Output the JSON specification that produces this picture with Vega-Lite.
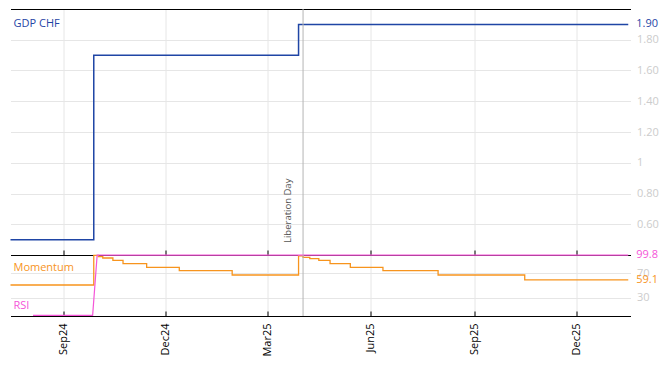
{
  "$schema": "https://vega.github.io/schema/vega-lite/v6.json",
  "padding": {"left": 7.5, "top": 8, "right": 0, "bottom": 0},
  "background": "white",
  "spacing": 0,
  "bounds": "flush",
  "config": {
    "font": "Open Sans",
    "view": {"stroke": null},
    "axis": {"labelFont": "Open Sans", "labelFontSize": 11, "gridColor": "#e6e6e6", "gridWidth": 1},
    "text": {"font": "Open Sans", "fontSize": 11}
  },
  "datasets": {
    "gdp": [
      {"date": "2024-07-16", "value": 0.5},
      {"date": "2024-09-28", "value": 1.7},
      {"date": "2025-03-29", "value": 1.9},
      {"date": "2026-01-16", "value": 1.9}
    ],
    "momentum": [
      {"date": "2024-07-16", "value": 50.8},
      {"date": "2024-09-28", "value": 99.5},
      {"date": "2024-10-02", "value": 97.4},
      {"date": "2024-10-06", "value": 95.1},
      {"date": "2024-10-15", "value": 91.3},
      {"date": "2024-10-24", "value": 85.9},
      {"date": "2024-11-14", "value": 79.8},
      {"date": "2024-12-13", "value": 74.4},
      {"date": "2025-01-29", "value": 67.2},
      {"date": "2025-03-29", "value": 98.8},
      {"date": "2025-04-02", "value": 96.2},
      {"date": "2025-04-08", "value": 94.1},
      {"date": "2025-04-16", "value": 91.3},
      {"date": "2025-04-26", "value": 85.9},
      {"date": "2025-05-14", "value": 79.8},
      {"date": "2025-06-12", "value": 74.4},
      {"date": "2025-07-31", "value": 67.2},
      {"date": "2025-10-16", "value": 59.1},
      {"date": "2026-01-16", "value": 59.1}
    ],
    "rsi": [
      {"date": "2024-08-05", "value": 1},
      {"date": "2024-09-27", "value": 1},
      {"date": "2024-10-01", "value": 99.8},
      {"date": "2026-01-16", "value": 99.8}
    ],
    "last": [
      {"series": "GDP CHF", "date": "2026-01-16", "value": 1.9, "label": "1.90"},
      {"series": "Momentum", "date": "2026-01-16", "value": 59.1, "label": "59.1"},
      {"series": "RSI", "date": "2026-01-16", "value": 99.8, "label": "99.8"}
    ],
    "events": [
      {"date": "2025-04-02", "event": "Liberation Day"}
    ]
  },
  "vconcat": [
    {
      "width": 620,
      "height": 246,
      "resolve": {"axis": {"x": "independent", "y": "independent"}},
      "layer": [
        {
          "data": {"name": "gdp"},
          "mark": {"type": "line", "interpolate": "step-after", "color": "#1f45a5", "strokeWidth": 1.5},
          "encoding": {
            "x": {"field": "date", "type": "temporal",
              "scale": {"type": "utc", "domain": [{"year": 2024, "month": 7, "date": 16, "utc": true}, {"year": 2026, "month": 1, "date": 18, "utc": true}]},
              "axis": {"orient": "top", "title": null, "domain": true, "domainColor": "#000000", "domainWidth": 1.2, "ticks": false, "labels": false, "grid": true,
                "values": [
                  {"year": 2024, "month": 9, "date": 1, "utc": true},
                  {"year": 2024, "month": 12, "date": 1, "utc": true},
                  {"year": 2025, "month": 3, "date": 1, "utc": true},
                  {"year": 2025, "month": 6, "date": 1, "utc": true},
                  {"year": 2025, "month": 9, "date": 1, "utc": true},
                  {"year": 2025, "month": 12, "date": 1, "utc": true}
                ]}},
            "y": {"field": "value", "type": "quantitative",
              "scale": {"domain": [0.4, 2.0], "nice": false, "zero": false},
              "axis": {"orient": "right", "title": null, "domain": false, "ticks": false, "grid": true, "labelColor": "#cccccc", "labelPadding": 6,
                "values": [0.6, 0.8, 1, 1.2, 1.4, 1.6, 1.8],
                "labelExpr": "datum.value == 1 ? '1' : format(datum.value, '.2f')"}}
          }
        },
        {
          "data": {"name": "events"},
          "mark": {"type": "rule", "color": "#b4b4b4", "strokeWidth": 1},
          "encoding": {"x": {"field": "date", "type": "temporal", "axis": null}}
        },
        {
          "data": {"name": "events"},
          "mark": {"type": "text", "angle": 270, "align": "left", "baseline": "bottom", "dx": 12, "dy": -10, "fontSize": 9.5, "color": "#555555"},
          "encoding": {
            "x": {"field": "date", "type": "temporal", "axis": null},
            "y": {"datum": 0.4, "axis": null},
            "text": {"field": "event"}
          }
        },
        {
          "data": {"name": "last"},
          "transform": [{"filter": "datum.series == 'GDP CHF'"}],
          "mark": {"type": "text", "align": "left", "baseline": "middle", "dx": 8, "color": "#1f45a5"},
          "encoding": {
            "x": {"field": "date", "type": "temporal", "axis": null},
            "y": {"field": "value", "type": "quantitative", "axis": null},
            "text": {"field": "label"}
          }
        },
        {
          "data": {"name": "last"},
          "transform": [{"filter": "datum.series == 'GDP CHF'"}],
          "mark": {"type": "text", "align": "left", "baseline": "middle", "dx": 3, "color": "#1f45a5"},
          "encoding": {
            "x": {"datum": {"year": 2024, "month": 7, "date": 16, "utc": true}, "type": "temporal", "axis": null},
            "y": {"datum": 1.9, "axis": null},
            "text": {"field": "series"}
          }
        }
      ]
    },
    {
      "width": 620,
      "height": 61,
      "resolve": {"axis": {"x": "independent", "y": "independent"}},
      "layer": [
        {
          "data": {"name": "momentum"},
          "mark": {"type": "line", "interpolate": "step-after", "color": "#f7941d", "strokeWidth": 1.3},
          "encoding": {
            "x": {"field": "date", "type": "temporal",
              "scale": {"type": "utc", "domain": [{"year": 2024, "month": 7, "date": 16, "utc": true}, {"year": 2026, "month": 1, "date": 18, "utc": true}]},
              "axis": {"orient": "top", "title": null, "domain": true, "domainColor": "#000000", "domainWidth": 1.2, "ticks": true, "tickColor": "#000000", "tickSize": 5, "labels": false, "grid": true,
                "values": [
                  {"year": 2024, "month": 9, "date": 1, "utc": true},
                  {"year": 2024, "month": 12, "date": 1, "utc": true},
                  {"year": 2025, "month": 3, "date": 1, "utc": true},
                  {"year": 2025, "month": 6, "date": 1, "utc": true},
                  {"year": 2025, "month": 9, "date": 1, "utc": true},
                  {"year": 2025, "month": 12, "date": 1, "utc": true}
                ]}},
            "y": {"field": "value", "type": "quantitative",
              "scale": {"domain": [0, 100], "nice": false},
              "axis": {"orient": "right", "title": null, "domain": false, "ticks": false, "grid": true, "labelColor": "#cccccc", "labelPadding": 6, "values": [30, 70]}}
          }
        },
        {
          "data": {"name": "rsi"},
          "mark": {"type": "line", "color": "#f555d8", "strokeWidth": 1.2},
          "encoding": {
            "x": {"field": "date", "type": "temporal",
              "axis": {"orient": "bottom", "title": null, "domain": true, "domainColor": "#000000", "domainWidth": 1.2, "ticks": true, "tickColor": "#000000", "tickSize": -5, "labels": true, "grid": false,
                "labelAngle": 270, "labelColor": "#000000", "labelPadding": 12, "format": "%b%y",
                "values": [
                  {"year": 2024, "month": 9, "date": 1, "utc": true},
                  {"year": 2024, "month": 12, "date": 1, "utc": true},
                  {"year": 2025, "month": 3, "date": 1, "utc": true},
                  {"year": 2025, "month": 6, "date": 1, "utc": true},
                  {"year": 2025, "month": 9, "date": 1, "utc": true},
                  {"year": 2025, "month": 12, "date": 1, "utc": true}
                ]}},
            "y": {"field": "value", "type": "quantitative", "axis": null}
          }
        },
        {
          "data": {"name": "events"},
          "mark": {"type": "rule", "color": "#b4b4b4", "strokeWidth": 1},
          "encoding": {"x": {"field": "date", "type": "temporal", "axis": null}}
        },
        {
          "data": {"name": "last"},
          "transform": [{"filter": "datum.series == 'Momentum'"}],
          "mark": {"type": "text", "align": "left", "baseline": "middle", "dx": 8, "color": "#f7941d"},
          "encoding": {
            "x": {"field": "date", "type": "temporal", "axis": null},
            "y": {"field": "value", "type": "quantitative", "axis": null},
            "text": {"field": "label"}
          }
        },
        {
          "data": {"name": "last"},
          "transform": [{"filter": "datum.series == 'RSI'"}],
          "mark": {"type": "text", "align": "left", "baseline": "middle", "dx": 8, "color": "#f555d8"},
          "encoding": {
            "x": {"field": "date", "type": "temporal", "axis": null},
            "y": {"field": "value", "type": "quantitative", "axis": null},
            "text": {"field": "label"}
          }
        },
        {
          "data": {"name": "last"},
          "transform": [{"filter": "datum.series == 'Momentum'"}],
          "mark": {"type": "text", "align": "left", "baseline": "middle", "dx": 3, "color": "#f7941d"},
          "encoding": {
            "x": {"datum": {"year": 2024, "month": 7, "date": 16, "utc": true}, "type": "temporal", "axis": null},
            "y": {"datum": 79, "axis": null},
            "text": {"field": "series"}
          }
        },
        {
          "data": {"name": "last"},
          "transform": [{"filter": "datum.series == 'RSI'"}],
          "mark": {"type": "text", "align": "left", "baseline": "middle", "dx": 3, "color": "#f555d8"},
          "encoding": {
            "x": {"datum": {"year": 2024, "month": 7, "date": 16, "utc": true}, "type": "temporal", "axis": null},
            "y": {"datum": 17, "axis": null},
            "text": {"field": "series"}
          }
        }
      ]
    }
  ]
}
